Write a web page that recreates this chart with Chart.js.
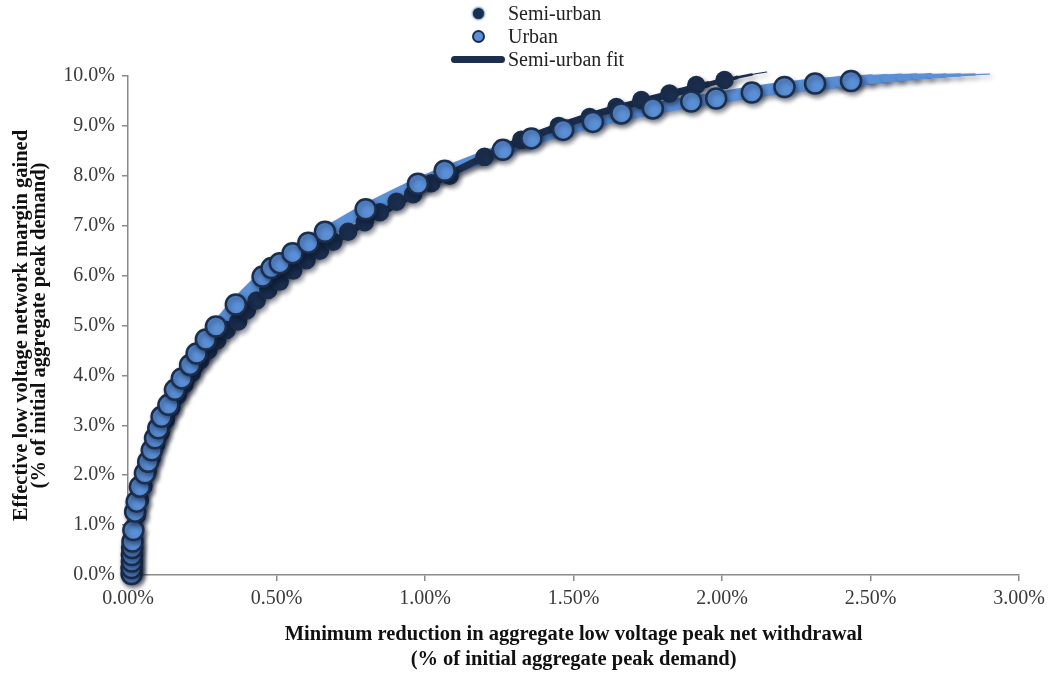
<!DOCTYPE html>
<html>
<head>
<meta charset="utf-8">
<script src="https://cdn.jsdelivr.net/npm/chart.js@4.4.1/dist/chart.umd.min.js"></script>
<style>
  html, body { margin: 0; padding: 0; background: #ffffff; }
  #wrap { position: relative; width: 1051px; height: 673px; }
  #chart { position: absolute; left: 0; top: 0; }
  #legend {
    position: absolute; left: 448px; top: 2px;
    font-family: 'Liberation Serif', 'Times New Roman', serif;
    font-size: 20px; color: #222; line-height: 23px;
  }
  #legend .row { display: flex; align-items: center; height: 23px; }
  #legend .sym { width: 60px; display: flex; justify-content: center; align-items: center; }
  #legend .dot { border-radius: 50%; box-sizing: border-box; }
  #legend .bar { border-radius: 4px; }
</style>
</head>
<body>
<div id="wrap">
  <canvas id="chart" width="1051" height="673"></canvas>
  <div id="legend"></div>
</div>
<script>
// Semi-urban feeders: peak reduction (%) vs. network margin gained (%)
const semiUrbanX = [0.015, 0.016, 0.017, 0.018, 0.019, 0.022, 0.03, 0.04, 0.052, 0.066, 0.08, 0.095, 0.11, 0.127, 0.146, 0.167, 0.19, 0.215, 0.243, 0.27, 0.30, 0.332, 0.371, 0.40, 0.433, 0.472, 0.511, 0.556, 0.601, 0.646, 0.691, 0.741, 0.797, 0.848, 0.904, 0.96, 1.021, 1.083, 1.20, 1.324, 1.45, 1.554, 1.644, 1.728, 1.823, 1.913, 2.008];
const semiUrbanY = [0.05, 0.2, 0.38, 0.55, 0.72, 0.9, 1.2, 1.5, 1.78, 2.08, 2.35, 2.62, 2.85, 3.1, 3.35, 3.6, 3.82, 4.05, 4.3, 4.5, 4.7, 4.91, 5.08, 5.3, 5.5, 5.71, 5.88, 6.1, 6.31, 6.5, 6.68, 6.88, 7.07, 7.27, 7.48, 7.63, 7.85, 8.0, 8.38, 8.72, 9.0, 9.18, 9.38, 9.52, 9.65, 9.82, 9.92];

// Urban feeders
const urbanX = [0.012, 0.012, 0.013, 0.013, 0.014, 0.015, 0.018, 0.024, 0.029, 0.04, 0.057, 0.068, 0.08, 0.091, 0.102, 0.113, 0.136, 0.158, 0.181, 0.209, 0.231, 0.262, 0.296, 0.363, 0.453, 0.483, 0.511, 0.554, 0.607, 0.663, 0.80, 0.976, 1.066, 1.262, 1.358, 1.465, 1.565, 1.661, 1.767, 1.896, 1.98, 2.10, 2.21, 2.313, 2.434];
const urbanY = [0.02, 0.14, 0.27, 0.4, 0.54, 0.67, 0.9, 1.27, 1.47, 1.77, 2.04, 2.27, 2.5, 2.74, 2.94, 3.17, 3.41, 3.71, 3.94, 4.21, 4.44, 4.72, 4.98, 5.42, 5.98, 6.15, 6.25, 6.45, 6.66, 6.88, 7.33, 7.84, 8.1, 8.52, 8.75, 8.92, 9.08, 9.25, 9.35, 9.49, 9.55, 9.67, 9.78, 9.85, 9.9];

// Fitted trend curves
const semiUrbanFitX = [0, 0.01, 0.02, 0.04, 0.07, 0.1, 0.15, 0.2, 0.3, 0.4, 0.5, 0.6, 0.7, 0.8, 0.9, 1.0, 1.2, 1.4, 1.6, 1.8, 1.9, 1.95, 2.0, 2.05, 2.1, 2.15];
const semiUrbanFitY = [0, 0.45, 0.85, 1.45, 2.1, 2.6, 3.25, 3.78, 4.62, 5.32, 5.84, 6.3, 6.7, 7.08, 7.42, 7.77, 8.38, 8.88, 9.28, 9.6, 9.75, 9.83, 9.9, 9.97, 10.03, 10.08];
const urbanFitX = [0, 0.005, 0.01, 0.02, 0.04, 0.07, 0.1, 0.15, 0.2, 0.3, 0.4, 0.5, 0.6, 0.7, 0.8, 1.0, 1.2, 1.4, 1.6, 1.8, 2.0, 2.2, 2.4, 2.45, 2.5, 2.55, 2.6, 2.65, 2.7, 2.75, 2.8, 2.85, 2.9];
const urbanFitY = [0, 0.3, 0.6, 1.1, 1.75, 2.4, 2.95, 3.65, 4.18, 4.98, 5.65, 6.2, 6.62, 6.98, 7.32, 7.9, 8.38, 8.8, 9.13, 9.38, 9.58, 9.76, 9.88, 9.91, 9.93, 9.95, 9.97, 9.985, 10.0, 10.01, 10.02, 10.03, 10.04];

// Axis ticks (percent)
const xTicks = [0, 0.5, 1.0, 1.5, 2.0, 2.5, 3.0];
const yTicks = [0, 1, 2, 3, 4, 5, 6, 7, 8, 9, 10];

const xTitle = ['Minimum reduction in aggregate low voltage peak net withdrawal', '(% of initial aggregate peak demand)'];
const yTitle = ['Effective low voltage network margin gained', '(% of initial aggregate peak demand)'];

const NAVY = '#1b2e4d';
const BLUE = '#5b8fd6';
const SERIF = "'Liberation Serif', 'Times New Roman', serif";

const pairs = (xs, ys) => xs.map((x, i) => ({ x, y: ys[i] }));

// thin the fit line toward its far end
function taper(base, start, end) {
  return ctx => {
    const mid = (ctx.p0.parsed.x + ctx.p1.parsed.x) / 2;
    if (ctx.p1.parsed.x <= start) return base;
    return Math.max(1, base * (end - mid) / (end - start));
  };
}

// soft drop shadow under every mark
const shadowPlugin = {
  id: 'softShadow',
  beforeDatasetDraw(chart) {
    const c = chart.ctx;
    c.save();
    c.shadowColor = 'rgba(10, 20, 40, 0.45)';
    c.shadowBlur = 5;
    c.shadowOffsetX = 2;
    c.shadowOffsetY = 3;
  },
  afterDatasetDraw(chart) { chart.ctx.restore(); }
};

const datasets = [
  {
    label: 'Semi-urban',
    data: pairs(semiUrbanX, semiUrbanY),
    backgroundColor: NAVY,
    borderColor: NAVY,
    borderWidth: 1.5,
    pointRadius: 8.5,
    pointHoverRadius: 8.5,
    showLine: false,
    clip: false,
    order: 1,
    inLegend: true,
    legendKind: 'smallDot'
  },
  {
    label: 'Urban',
    data: pairs(urbanX, urbanY),
    backgroundColor: BLUE,
    borderColor: NAVY,
    borderWidth: 2.5,
    pointRadius: 10,
    pointHoverRadius: 10,
    showLine: false,
    clip: false,
    order: 0,
    inLegend: true,
    legendKind: 'dot'
  },
  {
    label: 'Semi-urban fit',
    data: pairs(semiUrbanFitX, semiUrbanFitY),
    showLine: true,
    pointRadius: 0,
    borderColor: NAVY,
    borderWidth: 7,
    borderCapStyle: 'round',
    borderJoinStyle: 'round',
    tension: 0.3,
    clip: false,
    segment: { borderWidth: taper(7, 1.9, 2.17) },
    order: 2,
    inLegend: true,
    legendKind: 'line'
  },
  {
    label: 'Urban fit',
    data: pairs(urbanFitX, urbanFitY),
    showLine: true,
    pointRadius: 0,
    borderColor: BLUE,
    borderWidth: 12,
    borderCapStyle: 'round',
    borderJoinStyle: 'round',
    tension: 0.3,
    clip: false,
    segment: { borderWidth: taper(12, 2.4, 2.93) },
    order: 3,
    inLegend: false
  }
];

const axisGrey = '#8a8a8a';
const tickText = '#3a3a3a';

new Chart(document.getElementById('chart'), {
  type: 'scatter',
  data: { datasets },
  plugins: [shadowPlugin],
  options: {
    responsive: false,
    animation: false,
    events: [],
    layout: { padding: { left: 0, top: 76, right: 31, bottom: 0 } },
    plugins: { legend: { display: false }, tooltip: { enabled: false } },
    scales: {
      x: {
        type: 'linear',
        min: 0, max: 3,
        afterFit: s => { s.height = 98; },
        afterBuildTicks: s => { s.ticks = xTicks.map(v => ({ value: v })); },
        ticks: {
          color: tickText,
          font: { family: SERIF, size: 20 },
          padding: 6,
          maxRotation: 0,
          callback: v => v.toFixed(2) + '%'
        },
        grid: { drawOnChartArea: false, drawTicks: true, tickLength: 6, color: axisGrey, lineWidth: 1.5 },
        border: { display: true, color: axisGrey, width: 1.5 },
        title: {
          display: true,
          text: xTitle,
          color: '#111',
          font: { family: SERIF, size: 20.5, weight: 'bold', lineHeight: 1.2 },
          padding: { top: 0, bottom: 1 }
        }
      },
      y: {
        type: 'linear',
        min: 0, max: 10,
        afterFit: s => { s.width = 128; },
        afterBuildTicks: s => { s.ticks = yTicks.map(v => ({ value: v })); },
        ticks: {
          color: tickText,
          font: { family: SERIF, size: 20 },
          padding: 7,
          callback: v => v.toFixed(1) + '%'
        },
        grid: { drawOnChartArea: false, drawTicks: true, tickLength: 6, color: axisGrey, lineWidth: 1.5 },
        border: { display: true, color: axisGrey, width: 1.5 },
        title: {
          display: true,
          text: yTitle,
          color: '#111',
          font: { family: SERIF, size: 20.5, weight: 'bold', lineHeight: 0.9 },
          padding: { top: 12, bottom: 0 }
        }
      }
    }
  }
});

// legend, stacked vertically above the plot
const legend = document.getElementById('legend');
datasets.filter(d => d.inLegend).forEach(d => {
  const row = document.createElement('div');
  row.className = 'row';
  const sym = document.createElement('div');
  sym.className = 'sym';
  const mark = document.createElement('div');
  if (d.legendKind === 'smallDot') {
    mark.className = 'dot';
    mark.style.cssText = 'width:11px;height:11px;background:' + NAVY + ';box-shadow:0 0 2px 1px ' + BLUE + ';';
  } else if (d.legendKind === 'dot') {
    mark.className = 'dot';
    mark.style.cssText = 'width:13px;height:13px;background:' + BLUE + ';border:2.5px solid ' + NAVY + ';';
  } else {
    mark.className = 'bar';
    mark.style.cssText = 'width:54px;height:7px;background:' + NAVY + ';';
  }
  sym.appendChild(mark);
  const txt = document.createElement('span');
  txt.textContent = d.label;
  row.appendChild(sym);
  row.appendChild(txt);
  legend.appendChild(row);
});
</script>
</body>
</html>
